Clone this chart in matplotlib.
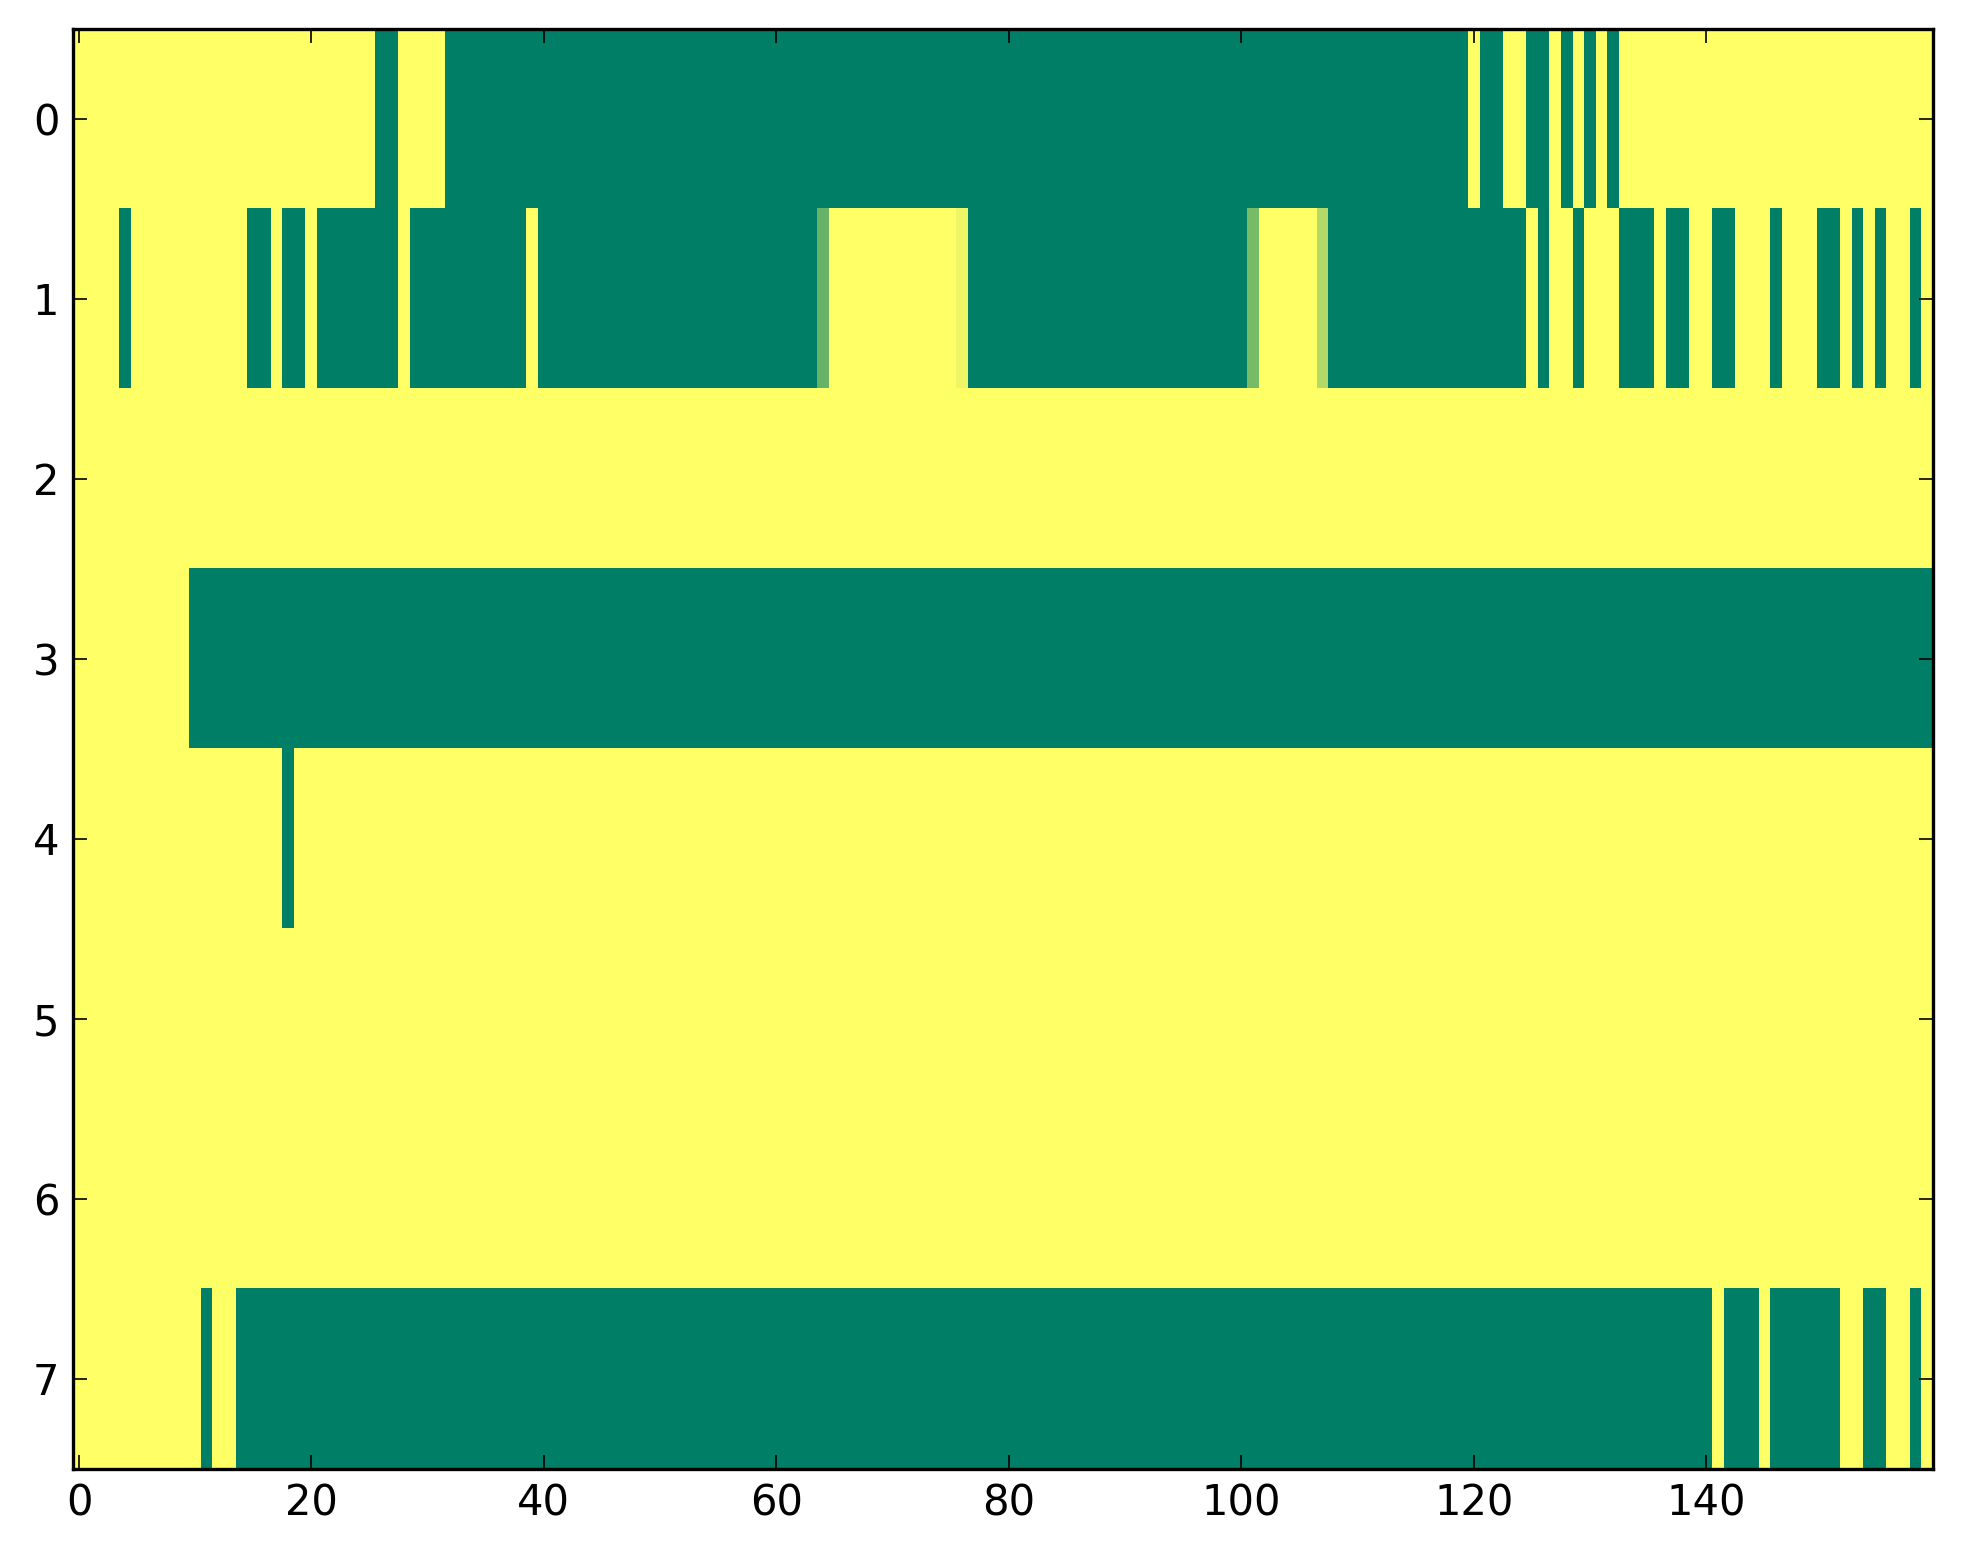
import numpy as np
import matplotlib
matplotlib.use("Agg")
import matplotlib.pyplot as plt

# Run-length encoded rows: (value, count); 1 = yellow, 0 = green
row0 = [(1, 26), (0, 2), (1, 4), (0, 88), (1, 1), (0, 2), (1, 2), (0, 2), (1, 1), (0, 1),
        (1, 1), (0, 1), (1, 1), (0, 1), (1, 27)]
row1 = [(1, 4), (0, 1), (1, 10), (0, 2), (1, 1), (0, 2), (1, 1), (0, 7), (1, 1), (0, 10),
        (1, 1), (0, 24), (0.4, 1), (1, 11), (0.93, 1), (0, 24), (0.47, 1), (1, 5), (0.7, 1),
        (0, 17), (1, 1), (0, 1), (1, 2), (0, 1), (1, 3), (0, 3), (1, 1), (0, 2), (1, 2),
        (0, 2), (1, 3), (0, 1), (1, 3), (0, 2), (1, 1), (0, 1), (1, 1), (0, 1), (1, 2),
        (0, 1), (1, 1)]
row2 = [(1, 160)]
row3 = [(1, 10), (0, 150)]
row4 = [(1, 18), (0, 1), (1, 141)]
row5 = [(1, 160)]
row6 = [(1, 160)]
row7 = [(1, 11), (0, 1), (1, 2), (0, 127), (1, 1), (0, 3), (1, 1), (0, 6), (1, 2), (0, 2),
        (1, 2), (0, 1), (1, 1)]

rows = [row0, row1, row2, row3, row4, row5, row6, row7]
xticks = [0, 20, 40, 60, 80, 100, 120, 140]
yticks = [0, 1, 2, 3, 4, 5, 6, 7]


def expand(runs):
    vals = [v for v, _ in runs]
    counts = [c for _, c in runs]
    return np.repeat(vals, counts)


data = np.vstack([expand(r) for r in rows])

fig = plt.figure(figsize=(19.63, 15.64), dpi=100)
ax = fig.add_axes([73.2 / 1963, (1564 - 1468.5) / 1564, 1859.5 / 1963, 1439.5 / 1564])
ax.imshow(data, cmap="summer", vmin=0, vmax=1, aspect="auto", interpolation="nearest")

ax.set_xticks(xticks)
ax.set_yticks(yticks)
ax.set_xlim(-0.5, data.shape[1] - 0.5)
ax.set_ylim(data.shape[0] - 0.5, -0.5)
ax.tick_params(direction="in", top=True, right=True, length=10, width=1.2,
               labelsize=30, pad=10, colors="black")
for s in ax.spines.values():
    s.set_linewidth(2.4)

fig.savefig("out.png", dpi=100)
